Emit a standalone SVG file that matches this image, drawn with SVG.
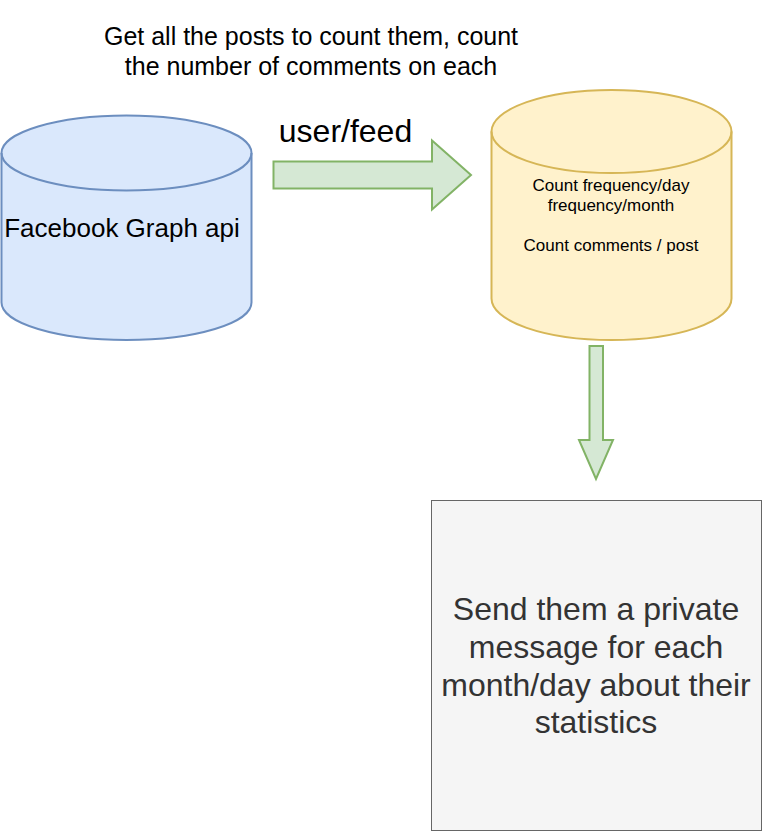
<svg xmlns="http://www.w3.org/2000/svg" width="762" height="831" viewBox="0 0 762 831">
<style>
text{font-family:"Liberation Sans",Arial,sans-serif;text-anchor:middle}
.arrow{fill:#d5e8d4;stroke:#82b366;stroke-width:2}
</style>
<rect width="762" height="831" fill="#ffffff"/>
<g id="title">
<text x="311" y="44.5" font-size="25" fill="#000">Get all the posts to count them, count</text>
<text x="311" y="74.5" font-size="25" fill="#000">the number of comments on each</text>
</g>
<g id="facebook">
<path d="M1.5,153 A125,37.5 0 0 1 251.5,153 L251.5,302.5 A125,37.5 0 0 1 1.5,302.5 Z" fill="#dae8fc" stroke="#6c8ebf" stroke-width="2"/>
<path d="M1.5,153 A125,37.5 0 0 0 251.5,153" fill="none" stroke="#6c8ebf" stroke-width="2"/>
<text x="122" y="237" font-size="26" fill="#000">Facebook Graph api</text>
</g>
<g id="counter">
<path d="M491.5,131.5 A120,41.5 0 0 1 731.5,131.5 L731.5,298.5 A120,41.5 0 0 1 491.5,298.5 Z" fill="#fff2cc" stroke="#d6b656" stroke-width="2"/>
<path d="M491.5,131.5 A120,41.5 0 0 0 731.5,131.5" fill="none" stroke="#d6b656" stroke-width="2"/>
<text x="611" y="191" font-size="17" fill="#000">Count frequency/day</text>
<text x="611" y="211" font-size="17" fill="#000">frequency/month</text>
<text x="611" y="251" font-size="17" fill="#000">Count comments / post</text>
</g>
<g id="message">
<rect x="431.5" y="500.5" width="330" height="330" fill="#f5f5f5" stroke="#666666" stroke-width="1"/>
<text x="596" y="620" font-size="32" fill="#333333">Send them a private</text>
<text x="596" y="658" font-size="32" fill="#333333">message for each</text>
<text x="596" y="696" font-size="32" fill="#333333">month/day about their</text>
<text x="596" y="733" font-size="32" fill="#333333">statistics</text>
</g>
<g id="connectors">
<text x="345.5" y="141.7" font-size="32" fill="#000">user/feed</text>
<path class="arrow" d="M273.5,161.5 L432,161.5 L432,140.5 L471,175 L432,209.5 L432,188.5 L273.5,188.5 Z"/>
<path class="arrow" d="M589.5,346 L603,346 L603,440 L613,440 L596,479 L579,440 L589.5,440 Z"/>
</g>
</svg>
